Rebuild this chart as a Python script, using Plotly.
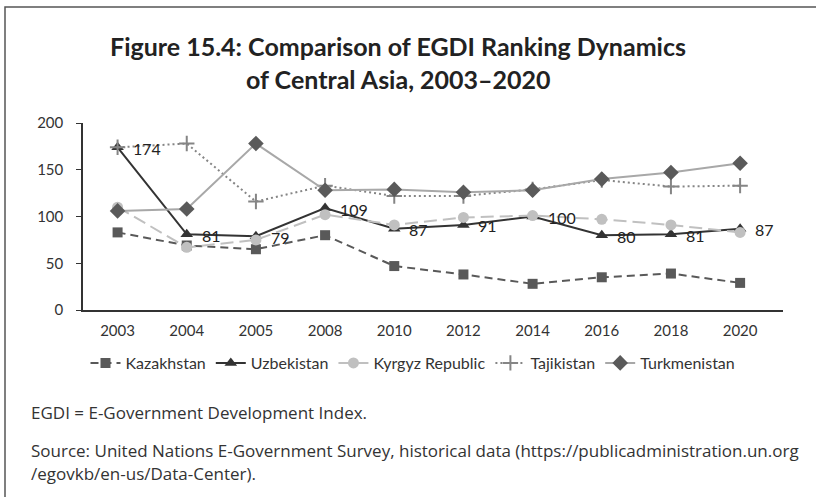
import plotly.graph_objects as go

years = ["2003", "2004", "2005", "2008", "2010", "2012", "2014", "2016", "2018", "2020"]
kazakhstan = [83, 69, 65, 80, 47, 38, 28, 35, 39, 29]
uzbekistan = [174, 81, 79, 109, 87, 91, 100, 80, 81, 87]
kyrgyz = [110, 67, 75, 102, 91, 99, 101, 97, 91, 83]
tajikistan = [174, 178, 116, 133, 122, 122, 129, 139, 132, 133]
turkmenistan = [106, 108, 178, 128, 129, 126, 128, 140, 147, 157]
y_ticks = [0, 50, 100, 150, 200]

title_lines = ["Figure 15.4: Comparison of EGDI Ranking Dynamics",
               "of Central Asia, 2003\u20132020"]
notes = ["EGDI = E-Government Development Index.",
         "Source: United Nations E-Government Survey, historical data (https://publicadministration.un.org",
         "/egovkb/en-us/Data-Center)."]

W, H = 816, 497
L, R, T, B = 83, 33, 123, 187
PW, PH = W - L - R, H - T - B


def px(x):
    return (x - L) / PW


def py(y):
    return (H - B - y) / PH


FONT = "Lato"
NOTE_FONT = "Open Sans"
TXT = "#333333"

fig = go.Figure()

series = [
    ("Kazakhstan", kazakhstan, dict(color="#595959", width=2, dash="8px,5px"),
     dict(symbol="square", size=10, color="#595959")),
    ("Uzbekistan", uzbekistan, dict(color="#333333", width=2),
     dict(symbol="triangle-up", size=11, color="#333333")),
    ("Kyrgyz Republic", kyrgyz, dict(color="#C0C0C0", width=2, dash="13px,6px"),
     dict(symbol="circle", size=11, color="#C0C0C0")),
    ("Tajikistan", tajikistan, dict(color="#858585", width=2, dash="2px,3px"),
     dict(symbol="cross-thin", size=11, line=dict(color="#858585", width=2), color="#858585")),
    ("Turkmenistan", turkmenistan, dict(color="#A8A8A8", width=2),
     dict(symbol="diamond", size=12, color="#5A5A5A")),
]

for name, vals, line, marker in series:
    fig.add_trace(go.Scatter(x=years, y=vals, name=name, mode="lines+markers",
                             line=line, marker=marker))

annotations = []
# value labels for Uzbekistan (category index used as x position)
for i, v in enumerate(uzbekistan):
    annotations.append(dict(x=i, y=v, xref="x", yref="y", text=str(v),
                            showarrow=False, xanchor="left", yanchor="middle",
                            xshift=13, yshift=-1,
                            font=dict(family=FONT, size=16, color="#222222")))

for line, yc in zip(title_lines, [46, 79]):
    annotations.append(dict(x=px(398), y=py(yc), xref="paper", yref="paper",
                            text="<b>%s</b>" % line, showarrow=False,
                            xanchor="center", yanchor="middle",
                            font=dict(family=FONT, size=25, color="#222222")))

for line, yc in zip(notes, [412, 450, 473]):
    annotations.append(dict(x=px(29), y=py(yc), xref="paper", yref="paper",
                            text=line, showarrow=False,
                            xanchor="left", yanchor="middle",
                            font=dict(family=NOTE_FONT, size=17, color=TXT)))

fig.update_layout(
    width=W, height=H,
    margin=dict(l=L, r=R, t=T, b=B, autoexpand=False),
    paper_bgcolor="white", plot_bgcolor="white",
    font=dict(family=FONT, size=15, color=TXT),
    showlegend=True,
    legend=dict(orientation="h", x=px(413), xanchor="center", y=py(363),
                yanchor="middle", font=dict(family=FONT, size=16, color=TXT),
                tracegroupgap=0),
    annotations=annotations,
    shapes=[dict(type="rect", xref="paper", yref="paper",
                 x0=px(5), x1=px(840), y0=py(520), y1=py(7),
                 line=dict(color="#555555", width=1.5), layer="below")],
)

fig.update_xaxes(type="category", range=[-0.5, 9.62], showgrid=False,
                 showline=True, linecolor="#333333", linewidth=1.5,
                 ticks="", ticklabelstandoff=6,
                 tickfont=dict(family=FONT, size=15, color=TXT))
fig.update_yaxes(range=[0, 200], tickvals=y_ticks, showgrid=False, zeroline=False,
                 showline=True, linecolor="#333333", linewidth=1.5,
                 ticks="outside", ticklen=5, tickcolor="#333333", tickwidth=1.2,
                 ticklabelstandoff=10,
                 tickfont=dict(family=FONT, size=15, color=TXT))

fig.write_html("out.html")
